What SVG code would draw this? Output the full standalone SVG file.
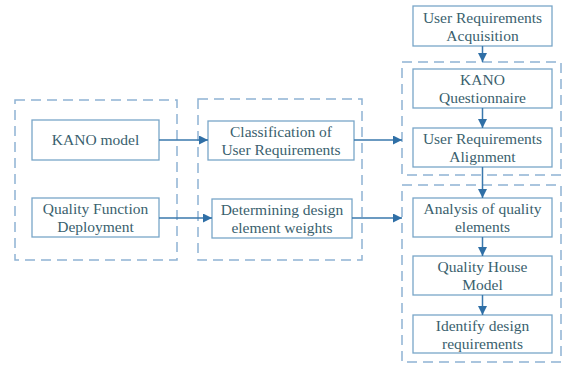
<svg xmlns="http://www.w3.org/2000/svg" width="567" height="367" viewBox="0 0 567 367">
<defs>
<style>
.grp{fill:none;stroke:#8fb3d3;stroke-width:1.5;stroke-dasharray:10 6}
.box{fill:#ffffff;stroke:#79a6c8;stroke-width:1.3}
.t{font-family:'Liberation Serif','DejaVu Serif',serif;font-size:15.5px;fill:#3a5f6e;text-anchor:middle}
.c{fill:none;stroke:#3a78ad;stroke-width:1.5;marker-end:url(#ah)}
</style>
<marker id="ah" viewBox="0 0 10 10" refX="10" refY="5" markerWidth="6" markerHeight="6" markerUnits="strokeWidth" orient="auto">
<path d="M0,0 L10,5 L0,10 z" fill="#2f6fa6"/>
</marker>
</defs>
<rect width="567" height="367" fill="#ffffff"/>
<g id="groups">
<rect class="grp" x="15" y="100" width="162" height="160"/>
<rect class="grp" x="198" y="99" width="164" height="161"/>
<rect class="grp" x="402" y="62" width="159" height="113"/>
<rect class="grp" x="402" y="185" width="159" height="177"/>
</g>
<g id="n_kano"><rect class="box" x="32" y="120" width="127" height="40"/><text class="t" x="95.5" y="145">KANO model</text></g>
<g id="n_qfd"><rect class="box" x="32" y="198" width="127" height="39"/><text class="t" x="95.5" y="214">Quality Function</text><text class="t" x="95.5" y="232">Deployment</text></g>
<g id="n_class"><rect class="box" x="208" y="121" width="146" height="39"/><text class="t" x="281" y="137">Classification of</text><text class="t" x="281" y="155">User Requirements</text></g>
<g id="n_det"><rect class="box" x="212" y="199" width="140" height="39"/><text class="t" x="282" y="215">Determining design</text><text class="t" x="282" y="233">element weights</text></g>
<g id="n_acq"><rect class="box" x="413" y="6" width="139" height="40"/><text class="t" x="482.5" y="23">User Requirements</text><text class="t" x="482.5" y="41">Acquisition</text></g>
<g id="n_kq"><rect class="box" x="413" y="69" width="139" height="39"/><text class="t" x="482.5" y="85">KANO</text><text class="t" x="482.5" y="103">Questionnaire</text></g>
<g id="n_align"><rect class="box" x="413" y="128" width="139" height="39"/><text class="t" x="482.5" y="144">User Requirements</text><text class="t" x="482.5" y="162">Alignment</text></g>
<g id="n_anal"><rect class="box" x="413" y="198" width="139" height="39"/><text class="t" x="482.5" y="214">Analysis of quality</text><text class="t" x="482.5" y="232">elements</text></g>
<g id="n_qh"><rect class="box" x="413" y="256" width="139" height="39"/><text class="t" x="482.5" y="272">Quality House</text><text class="t" x="482.5" y="290">Model</text></g>
<g id="n_id"><rect class="box" x="413" y="315" width="139" height="38"/><text class="t" x="482.5" y="331">Identify design</text><text class="t" x="482.5" y="349">requirements</text></g>
<g id="connectors">
<line class="c" x1="159" y1="140" x2="208" y2="140"/>
<line class="c" x1="354" y1="140" x2="402" y2="140"/>
<line class="c" x1="159" y1="218" x2="212" y2="218"/>
<line class="c" x1="352" y1="218" x2="402" y2="218"/>
<line class="c" x1="482.5" y1="46" x2="482.5" y2="62"/>
<line class="c" x1="482.5" y1="108" x2="482.5" y2="128"/>
<line class="c" x1="482.5" y1="167" x2="482.5" y2="198"/>
<line class="c" x1="482.5" y1="237" x2="482.5" y2="256"/>
<line class="c" x1="482.5" y1="295" x2="482.5" y2="315"/>
</g>
</svg>
